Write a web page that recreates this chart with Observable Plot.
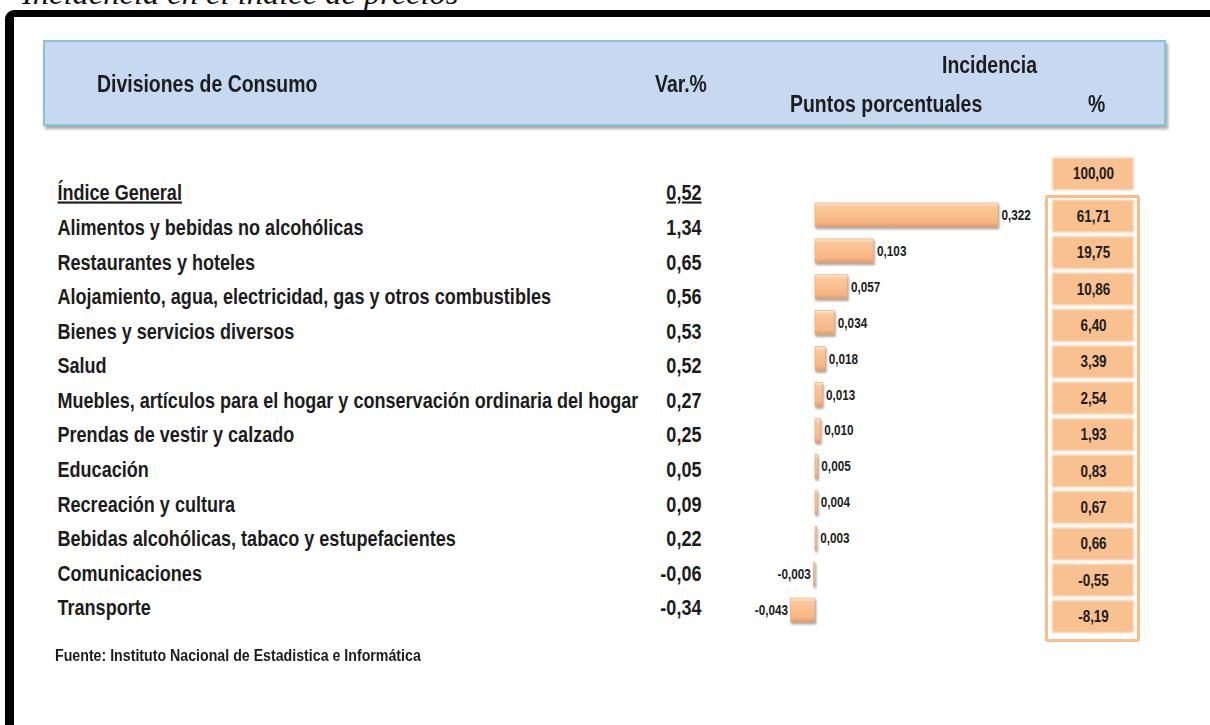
<!DOCTYPE html>
<html><head><meta charset="utf-8">
<script src="https://cdn.jsdelivr.net/npm/d3@7"></script>
<script src="https://cdn.jsdelivr.net/npm/@observablehq/plot@0.6"></script>
<style>
body{margin:0;background:#fff;width:1210px;height:725px;overflow:hidden;position:relative;font-family:"Liberation Sans",Arial,sans-serif;}
#title{position:absolute;left:22px;top:-23px;font:italic 32.5px "Liberation Serif","DejaVu Serif",serif;line-height:32px;white-space:nowrap;color:#111}
#frame{position:absolute;left:5px;top:10px;width:1300px;height:800px;border-left:9px solid #000;border-top:7px solid #000;border-radius:9px 0 0 0;}
#head{position:absolute;left:43px;top:40px;width:1119px;height:82px;background:#c6d9f1;border:2px solid #86c4d7;box-shadow:2px 3px 3px rgba(0,0,0,.35);}
.h{position:absolute;font-weight:bold;font-size:23px;line-height:23px;color:#1c1c1c;white-space:nowrap;transform:scaleX(0.845);transform-origin:0 50%}
.layer{position:absolute;left:0;top:0}
#pctframe{position:absolute;left:1045px;top:195px;width:89px;height:441px;border:3px solid #f8bd8d;border-radius:3px}
#source{position:absolute;left:55px;top:647px;font-weight:bold;font-size:16.9px;line-height:18px;color:#1c1c1c;white-space:nowrap;transform:scaleX(0.84);transform-origin:0 50%}
.bars g[aria-label="bar"] rect{filter:drop-shadow(1px 2px 1px rgba(0,0,0,.35));}
.pct g[aria-label="cell"] rect{filter:drop-shadow(0px 0px 1px rgba(230,150,90,.6));}
</style>
</head><body>
<div id="title">Incidencia en el índice de precios</div>
<div id="frame"></div>
<div id="head"></div>
<div class="h" style="left:97px;top:73px">Divisiones de Consumo</div>
<div class="h" style="left:655px;top:73px">Var.%</div>
<div class="h" style="left:942px;top:54px">Incidencia</div>
<div class="h" style="left:790px;top:93px">Puntos porcentuales</div>
<div class="h" style="left:1088px;top:93px">%</div>
<div id="pctframe"></div>
<div id="source">Fuente: Instituto Nacional de Estadistica e Informática</div>
<script>
// ---- data ----
const rows = [
  "Índice General",
  "Alimentos y bebidas no alcohólicas",
  "Restaurantes y hoteles",
  "Alojamiento, agua, electricidad, gas y otros combustibles",
  "Bienes y servicios diversos",
  "Salud",
  "Muebles, artículos para el hogar y conservación ordinaria del hogar",
  "Prendas de vestir y calzado",
  "Educación",
  "Recreación y cultura",
  "Bebidas alcohólicas, tabaco y estupefacientes",
  "Comunicaciones",
  "Transporte"
];
const varPct = [0.52, 1.34, 0.65, 0.56, 0.53, 0.52, 0.27, 0.25, 0.05, 0.09, 0.22, -0.06, -0.34];
const divisions = rows.slice(1);
const puntos = [0.322, 0.103, 0.057, 0.034, 0.018, 0.013, 0.010, 0.005, 0.004, 0.003, -0.003, -0.043];
const incidPct = [61.71, 19.75, 10.86, 6.40, 3.39, 2.54, 1.93, 0.83, 0.67, 0.66, -0.55, -8.19];
const generalPct = 100.00;

const fmt = (v, n) => v.toFixed(n).replace(".", ",");
const FONT = '"Liberation Sans",Arial,sans-serif';
const INK = "#1c1c1c";
const NARROW = 0.84;

function place(svg, cls) {
  svg.classList.add("layer");
  if (cls) svg.classList.add(cls);
  document.body.appendChild(svg);
  // condense glyphs horizontally (Arial Narrow look), keeping the anchor point
  svg.querySelectorAll("text").forEach(t => {
    const x = t.getAttribute("x");
    if (x !== null && +x) t.setAttribute("x", +x / NARROW);
    const tr = t.getAttribute("transform") || "";
    t.setAttribute("transform", (tr + ` scale(${NARROW},1)`).trim());
  });
  return svg;
}

// ---- table text layer ----
const tableData = rows.map((r, i) => ({r, v: varPct[i]}));
const tableSvg = Plot.plot({
  width: 1210, height: 725, margin: 0,
  style: {background: "transparent", fontFamily: FONT, overflow: "visible"},
  y: {type: "band", domain: rows, range: [175.7, 625.3], padding: 0, round: false, axis: null},
  marks: [
    Plot.text(tableData, {y: "r", text: "r", frameAnchor: "left", dx: 57, textAnchor: "start",
      fontSize: 21.5, fontWeight: "bold", fill: INK}),
    Plot.text(tableData, {y: "r", text: d => fmt(d.v, 2), frameAnchor: "left", dx: 701, textAnchor: "end",
      fontSize: 21.5, fontWeight: "bold", fill: INK})
  ]
});
place(tableSvg);
d3.select(tableSvg).selectAll('g[aria-label="text"]').each(function() {
  d3.select(this).select("text").style("text-decoration", "underline");
});

// ---- bars layer ----
const k = (998 - 815) / 0.322;
const barData = divisions.map((r, i) => ({r, v: puntos[i]}));
const barSvg = Plot.plot({
  width: 1210, height: 725, margin: 0,
  style: {background: "transparent", fontFamily: FONT, overflow: "visible"},
  x: {domain: [-815 / k, (1210 - 815) / k], axis: null},
  y: {type: "band", domain: divisions, range: [197, 628], paddingInner: 0.33, paddingOuter: 0.165, round: false, axis: null},
  marks: [
    Plot.barX(barData, {x: "v", y: "r", fill: "url(#bargrad)", stroke: "#e9a878", strokeWidth: 0.6}),
    Plot.text(barData.filter(d => d.v >= 0), {x: "v", y: "r", text: d => fmt(d.v, 3), dx: 3, textAnchor: "start",
      fontSize: 14, fontWeight: "bold", fill: INK}),
    Plot.text(barData.filter(d => d.v < 0), {x: "v", y: "r", text: d => fmt(d.v, 3), dx: -3, textAnchor: "end",
      fontSize: 14, fontWeight: "bold", fill: INK})
  ]
});
place(barSvg, "bars");
const defs = d3.select(barSvg).insert("defs", ":first-child");
const g = defs.append("linearGradient").attr("id", "bargrad").attr("x1", 0).attr("y1", 0).attr("x2", 0).attr("y2", 1);
[[0, "#fde4cb"], [0.18, "#fbc798"], [0.8, "#f8b684"], [1, "#de9a6a"]].forEach(([o, c]) =>
  g.append("stop").attr("offset", o).attr("stop-color", c));

// ---- percent column layer ----
const pctRows = ["Índice General", ...divisions];
const pctData = divisions.map((r, i) => ({r, v: incidPct[i]}));
const genData = [{r: "Índice General", v: generalPct}];
const pctSvg = Plot.plot({
  width: 1210, height: 725, margin: 0,
  style: {background: "transparent", fontFamily: FONT, overflow: "visible"},
  x: {type: "band", domain: ["%"], range: [1053, 1133], padding: 0, round: false, axis: null},
  y: {type: "band", domain: pctRows, range: [161.6, 634.8], paddingInner: 0.148, paddingOuter: 0.074, round: false, axis: null},
  marks: [
    Plot.cell(pctData, {x: () => "%", y: "r", fill: "#f9c090", stroke: "#fcd6b6", strokeWidth: 1}),
    Plot.text(pctData, {x: () => "%", y: "r", text: d => fmt(d.v, 2), fontSize: 16, fontWeight: "bold", fill: INK}),
    Plot.cell(genData, {x: () => "%", y: "r", dy: -6, fill: "#f9c090", stroke: "#fcd6b6", strokeWidth: 1}),
    Plot.text(genData, {x: () => "%", y: "r", dy: -6, text: d => fmt(d.v, 2), fontSize: 16, fontWeight: "bold", fill: INK})
  ]
});
place(pctSvg, "pct");
</script>
</body></html>
